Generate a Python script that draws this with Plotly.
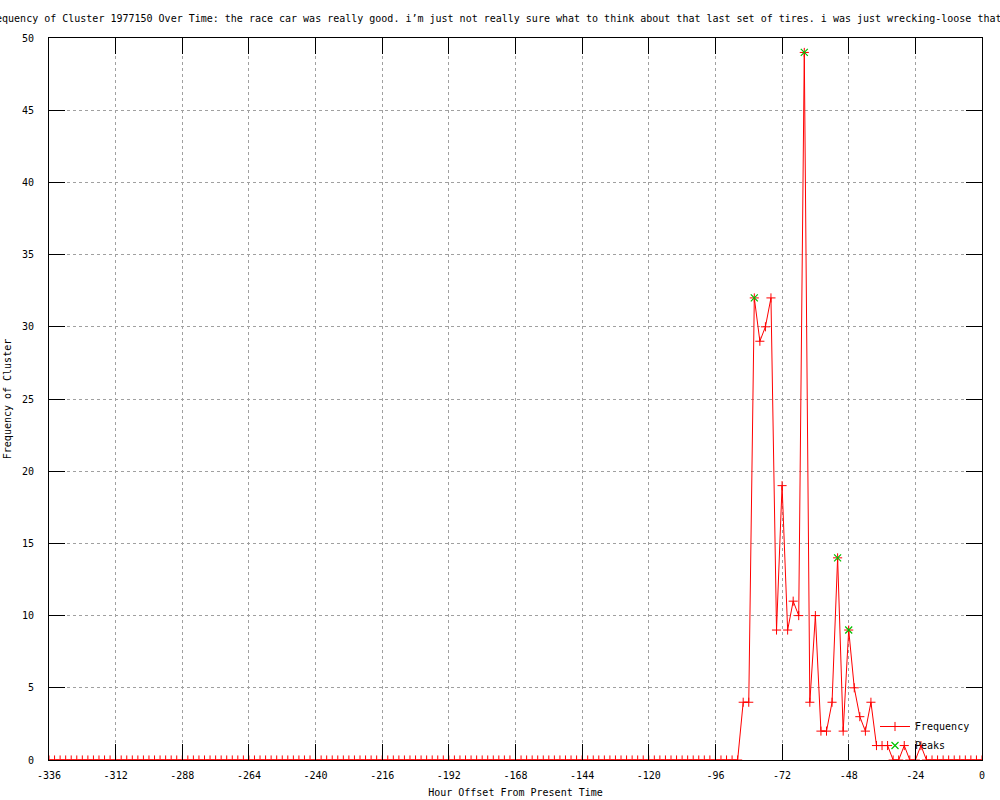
import plotly.graph_objects as go

# hours before "now", one sample every 2 hours
hours = list(range(-336, 1, 2))

freq = [
    0, 0, 0, 0, 0, 0, 0, 0, 0, 0, 0, 0, 0, 0, 0, 0, 0, 0, 0, 0, 0, 0, 0, 0, 0,   # -336 .. -288
    0, 0, 0, 0, 0, 0, 0, 0, 0, 0, 0, 0, 0, 0, 0, 0, 0, 0, 0, 0, 0, 0, 0, 0, 0,   # -286 .. -238
    0, 0, 0, 0, 0, 0, 0, 0, 0, 0, 0, 0, 0, 0, 0, 0, 0, 0, 0, 0, 0, 0, 0, 0, 0,   # -236 .. -188
    0, 0, 0, 0, 0, 0, 0, 0, 0, 0, 0, 0, 0, 0, 0, 0, 0, 0, 0, 0, 0, 0, 0, 0, 0,   # -186 .. -138
    0, 0, 0, 0, 0, 0, 0, 0, 0, 0, 0, 0, 0, 0, 0, 0, 0, 0, 0, 0, 0, 0, 0, 0, 0,   # -136 .. -88
    4, 4, 32, 29, 30, 32, 9, 19, 9, 11, 10, 49,                                   # -86 .. -64
    4, 10, 2, 2, 4, 14, 2, 9, 5, 3, 2, 4,                                          # -62 .. -40
    1, 1, 1, 0, 0, 1, 0, 0, 1, 0,                                                  # -38 .. -20
    0, 0, 0, 0, 0, 0, 0, 0, 0, 0,                                                  # -18 .. 0
]

peak_hours = [-82, -64, -52, -48]
peak_values = [32, 49, 14, 9]

x_tickvals = [-336, -312, -288, -264, -240, -216, -192, -168, -144, -120, -96, -72, -48, -24, 0]
x_ticktext = ["-336", "-312", "-288", "-264", "-240", "-216", "-192", "-168",
              "-144", "-120", "-96", "-72", "-48", "-24", "0"]

title_text = ("Frequency of Cluster 1977150 Over Time: the race car was really good. "
              "i\u2019m just not really sure what to think about that last set of tires. "
              "i was just wrecking-loose that")

FONT = "DejaVu Sans Mono"
RED = "#ff0000"
GREEN = "#00c000"
W, H = 1000, 800
L, R, T, B = 49, 18, 38, 40
plot_w = W - L - R
plot_h = H - T - B

fig = go.Figure()

fig.add_trace(go.Scatter(
    x=hours, y=freq,
    mode="lines+markers",
    name="Frequency",
    line=dict(color=RED, width=1),
    marker=dict(symbol="cross-thin-open", size=6.5, color=RED, line=dict(color=RED, width=1)),
    hoverinfo="skip",
))

fig.add_trace(go.Scatter(
    x=peak_hours, y=peak_values,
    mode="markers",
    name="Peaks",
    marker=dict(symbol="x-thin-open", size=7, color=GREEN, line=dict(color=GREEN, width=1.2)),
    hoverinfo="skip",
))

axis_common = dict(
    showline=True, linecolor="black", linewidth=1, mirror="ticks",
    ticks="inside", ticklen=16, tickcolor="black", tickwidth=1,
    showgrid=True, gridcolor="#a0a0a0", griddash="dot", gridwidth=1,
    zeroline=False, automargin=False,
    tickfont=dict(family=FONT, size=10, color="black"),
)

fig.update_xaxes(
    range=[-336, 0],
    tickvals=x_tickvals, ticktext=x_ticktext,
    ticklabelstandoff=6,
    title=dict(text="Hour Offset From Present Time", font=dict(family=FONT, size=10, color="black"), standoff=8),
    **axis_common,
)
fig.update_yaxes(
    range=[0, 50], dtick=5,
    ticklabelstandoff=12,
    title=dict(text="Frequency of Cluster", font=dict(family=FONT, size=10, color="black"), standoff=8),
    **axis_common,
)

fig.add_annotation(
    text=title_text,
    xref="paper", yref="paper",
    x=(-18 - L) / plot_w, xanchor="left",
    y=1 + (T - 19) / plot_h, yanchor="middle",
    showarrow=False,
    font=dict(family=FONT, size=10, color="black"),
)

fig.update_layout(
    width=W, height=H,
    margin=dict(l=L, r=R, t=T, b=B),
    paper_bgcolor="white", plot_bgcolor="white",
    showlegend=True,
    legend=dict(
        x=(975 - L) / plot_w, xanchor="right",
        y=0, yanchor="bottom",
        bgcolor="rgba(0,0,0,0)",
        font=dict(family=FONT, size=10, color="black"),
        tracegroupgap=0,
    ),
    hovermode=False,
)

# page body has an 8px default margin; drop it so the figure sits at 0,0
fig.write_html("out.html", config={"displayModeBar": False},
               post_script="document.body.style.margin='0px';")
